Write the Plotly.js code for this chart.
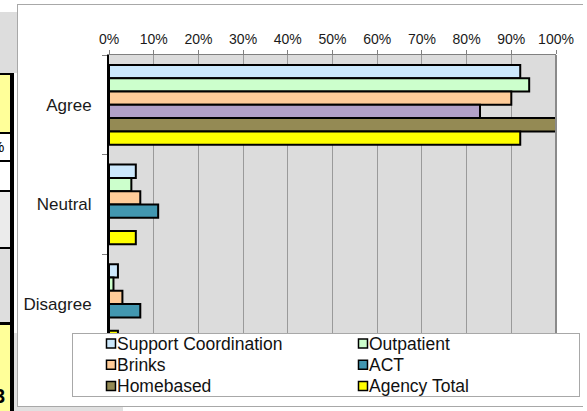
<!DOCTYPE html>
<html>
<head>
<meta charset="utf-8">
<script src="https://cdn.plot.ly/plotly-3.0.1.min.js"></script>
<style>
  html, body { margin: 0; padding: 0; background: #ffffff; }
  body { width: 587px; height: 411px; position: relative; overflow: hidden; font-family: Arial, "Liberation Sans", sans-serif; }
  .blk { position: absolute; }
  .frame { position: absolute; left: 17px; top: 4px; width: 565px; height: 401px;
           border-top: 1px solid #a8a8a8; border-left: 1px solid #a8a8a8; border-bottom: 1px solid #a8a8a8; }
  .cell { position: absolute; overflow: hidden; left: 0; width: 10px; }
  #chart { position: absolute; left: 0; top: 0; width: 587px; height: 411px; }
  #chart .legend rect.bg { height: 63px; width: 507px; }
  #chart .legend .legendpoints { transform: translate(18px, -6px); }
  #chart .legend .legendpoints path { transform: translate(20px, 0px) scale(0.75); }
  #chart .legend .legendtext { transform: translate(4px, -5px); font-size: 17.5px !important; }
</style>
</head>
<body>
<!-- left cropped worksheet strip -->
<div class="blk" style="left:0;top:12px;width:17px;height:61px;background:#dddddd;"></div>
<div class="blk" style="left:0;top:73px;width:14px;height:2px;background:#000;"></div>
<div class="cell" style="top:75px;height:57px;background:#ffff99;"></div>
<div class="blk" style="left:0;top:132px;width:10px;height:2px;background:#000;"></div>
<div class="cell" style="top:134px;height:26px;background:#fff;"><span style="position:absolute;left:-9px;top:4px;font-size:15px;">%</span></div>
<div class="blk" style="left:0;top:160px;width:10px;height:2px;background:#000;"></div>
<div class="cell" style="top:162px;height:28px;background:#fff;"></div>
<div class="blk" style="left:0;top:190px;width:10px;height:2px;background:#000;"></div>
<div class="cell" style="top:192px;height:55px;background:#ebebeb;"></div>
<div class="blk" style="left:0;top:247px;width:10px;height:2px;background:#000;"></div>
<div class="cell" style="top:249px;height:73px;background:#dedede;"></div>
<div class="blk" style="left:0;top:322px;width:10px;height:3px;background:#000;"></div>
<div class="cell" style="top:325px;height:86px;background:#ffff99;"><span style="position:absolute;left:-6px;top:60px;font-size:20px;font-weight:bold;">3</span></div>
<div class="blk" style="left:10px;top:73px;width:4px;height:338px;background:#000;"></div>
<div class="blk" style="left:14px;top:333px;width:3px;height:78px;background:#e0e0e0;"></div>
<div class="blk" style="left:17px;top:407px;width:106px;height:4px;background:#e0e0e0;"></div>
<div class="frame"></div>
<div id="chart"></div>
<script>
// ---- data ----
const categories = ['Agree', 'Neutral', 'Disagree'];
const seriesNames = ['Support Coordination', 'Outpatient', 'Brinks', 'ACT', 'Homebased', 'Agency Total'];
const supportCoordination = [0.92, 0.06, 0.02];
const outpatient          = [0.94, 0.05, 0.01];
const brinks              = [0.90, 0.07, 0.03];
const act                 = [0.83, 0.11, 0.07];
const homebased           = [1.00, 0.00, 0.00];
const agencyTotal         = [0.92, 0.06, 0.02];
const tickValues = [0, 0.1, 0.2, 0.3, 0.4, 0.5, 0.6, 0.7, 0.8, 0.9, 1.0];

// ---- styling ----
const seriesValues = [supportCoordination, outpatient, brinks, act, homebased, agencyTotal];
const seriesColors = ['#cce8fc', '#ccffcc', '#ffcc99', '#4297b0', '#948a54', '#ffff00'];
// the Agree bar of ACT is drawn in a different (lavender) colour in the reference
const pointColorOverride = { 3: { 0: '#b2a1c7' } };
// point order so the legend swatch takes the series' base colour
const pointOrder = [1, 2, 0];

const traces = seriesNames.map((name, s) => {
  const vals = seriesValues[s];
  const over = pointColorOverride[s] || {};
  return {
    type: 'bar',
    orientation: 'h',
    name: name,
    y: pointOrder.map(i => categories[i]),
    x: pointOrder.map(i => vals[i]),
    marker: {
      color: pointOrder.map(i => over[i] || seriesColors[s]),
      line: { color: '#000000', width: 2 }
    },
    hoverinfo: 'skip'
  };
});

const fontFam = 'Arial, "Liberation Sans", sans-serif';
const layout = {
  width: 587,
  height: 411,
  margin: { l: 109, r: 31, t: 55, b: 78, autoexpand: false },
  paper_bgcolor: 'rgba(0,0,0,0)',
  plot_bgcolor: '#dcdcdc',
  barmode: 'group',
  bargap: 0.2,
  bargroupgap: 0,
  font: { family: fontFam, color: '#1a1a1a' },
  xaxis: {
    side: 'top',
    range: [0, 1],
    tickvals: tickValues,
    ticktext: tickValues.map(v => Math.round(v * 100) + '%'),
    showgrid: true,
    gridcolor: '#9a9a9a',
    gridwidth: 1,
    zeroline: false,
    showline: true,
    linecolor: '#808080',
    linewidth: 1,
    ticks: 'outside',
    ticklen: 4,
    tickcolor: '#808080',
    tickfont: { size: 14, family: fontFam, color: '#1a1a1a' },
    fixedrange: true
  },
  yaxis: {
    type: 'category',
    categoryorder: 'array',
    categoryarray: categories,
    range: [2.29, -0.5],
    showgrid: false,
    zeroline: false,
    showline: true,
    linecolor: '#000000',
    linewidth: 2,
    ticks: 'outside',
    tickson: 'boundaries',
    ticklen: 5,
    tickcolor: '#808080',
    ticklabelstandoff: 12,
    tickfont: { size: 17, family: fontFam, color: '#1a1a1a' },
    fixedrange: true
  },
  shapes: [{
    type: 'line', xref: 'paper', yref: 'paper', x0: 1, x1: 1, y0: 0, y1: 1,
    line: { color: '#8a8a8a', width: 2 }
  }],
  showlegend: true,
  legend: {
    orientation: 'h',
    x: -0.0828,
    xanchor: 'left',
    y: 0,
    yanchor: 'top',
    bgcolor: '#ffffff',
    bordercolor: '#a8a8a8',
    borderwidth: 1,
    entrywidth: 207,
    traceorder: 'normal',
    font: { size: 14, family: fontFam, color: '#111111' }
  }
};

Plotly.newPlot('chart', traces, layout, { staticPlot: true, displayModeBar: false });
</script>
</body>
</html>
